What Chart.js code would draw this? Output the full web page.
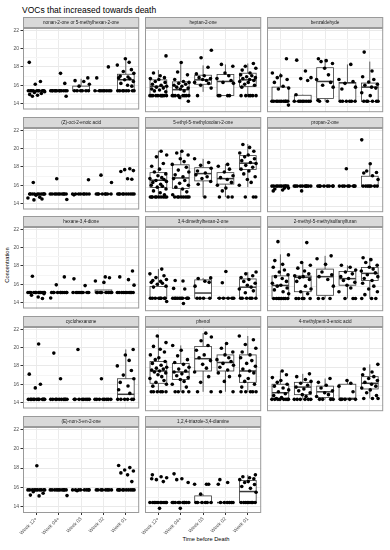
<!DOCTYPE html>
<html>
<head>
<meta charset="utf-8">
<script src="https://cdn.jsdelivr.net/npm/chart.js@4.4.1/dist/chart.umd.min.js"></script>
<style>
  body { margin: 0; background: #fff; font-family: "Liberation Sans", Arial, sans-serif; }
  #wrap { position: relative; width: 390px; height: 550px; overflow: hidden; }
  #wrap canvas { position: absolute; }
  .title { position: absolute; left: 22px; top: 5px; font-size: 8.5px; line-height: 11px; color: #000; white-space: nowrap; }
  .xlab { position: absolute; left: 156px; width: 100px; top: 535px; font-size: 5.7px; line-height: 8px; text-align: center; color: #000; }
  .ylab { position: absolute; left: -43px; top: 261px; width: 100px; text-align: center; font-size: 5.7px; line-height: 8px; color: #000; transform: rotate(-90deg); }
</style>
</head>
<body>
<div id="wrap">
  <div class="title">VOCs that increased towards death</div>
  <div class="ylab">Concentration</div>
  <div class="xlab">Time before Death</div>
</div>
<script>
const weeks = ['Week 12+', 'Week 04+', 'Week 03', 'Week 02', 'Week 01'];
const yTicks = [14, 15, 16, 17, 18, 19, 20, 21, 22];
const vocs = [
  'nonan-2-one or 5-methylhexan-2-one', 'heptan-2-one', 'benzaldehyde',
  '(Z)-oct-2-enoic acid', '5-ethyl-5-methyloxolan-2-one', 'propan-2-one',
  'hexane-3,4-dione', '3,4-dimethylhexan-2-one', '2-methyl-5-methylsulfanylfuran',
  'cyclohexanone', 'phenol', '4-methylpent-3-enoic acid',
  '(E)-non-3-en-2-one', '1,2,4-triazole-3,4-diamine'
];

// box statistics per VOC, one value per week
const whiskLo = [
  [15.38, 15.38, 15.38, 15.38, 15.39],
  [15.11, 14.7, 15.5, 15.11, 15.11],
  [14.49, 14.49, 14.5, 14.49, 14.49],
  [15.05, 15.05, 15.05, 15.05, 15.05],
  [14.95, 14.95, 14.95, 14.95, 16.0],
  [16.11, 16.11, 16.11, 16.11, 16.11],
  [15.1, 15.1, 15.1, 15.1, 15.1],
  [14.72, 14.72, 14.72, 14.72, 14.72],
  [14.69, 14.69, 14.69, 14.69, 14.69],
  [14.35, 14.35, 14.35, 14.35, 14.35],
  [15.4, 15.4, 15.4, 15.4, 15.4],
  [14.6, 14.6, 14.6, 14.6, 14.7],
  [15.74, 15.74, 15.74, 15.74, 15.74],
  [14.43, 14.43, 14.43, 14.43, 14.43]
];
const boxQ1 = [
  [15.36, 15.38, 15.39, 15.38, 15.39],
  [15.11, 15.11, 16.3, 15.11, 16.08],
  [14.49, 14.49, 14.8, 14.49, 14.49],
  [15.05, 15.05, 15.05, 15.05, 15.05],
  [15.97, 15.87, 16.66, 16.32, 17.87],
  [16.11, 16.11, 16.11, 16.11, 16.11],
  [15.1, 15.1, 15.1, 15.1, 15.1],
  [14.72, 14.72, 14.72, 14.72, 14.72],
  [14.69, 15.41, 15.03, 16.1, 16.59],
  [14.35, 14.35, 14.35, 14.35, 14.35],
  [16.3, 16.7, 17.6, 17.6, 16.4],
  [14.7, 15.1, 14.8, 14.6, 15.7],
  [15.74, 15.74, 15.74, 15.74, 15.74],
  [14.43, 14.43, 14.43, 14.43, 14.43]
];
const boxMed = [
  [15.38, 15.38, 15.42, 15.38, 16.6],
  [16.08, 15.73, 16.77, 16.6, 16.77],
  [14.55, 14.49, 16.6, 16.45, 16.0],
  [15.05, 15.05, 15.05, 15.05, 15.05],
  [16.73, 16.97, 17.43, 16.9, 18.53],
  [16.11, 16.11, 16.11, 16.11, 16.11],
  [15.1, 15.1, 15.1, 15.1, 15.1],
  [14.72, 14.72, 15.27, 14.72, 15.89],
  [16.07, 16.93, 17.0, 16.79, 17.35],
  [14.35, 14.35, 14.35, 14.35, 14.9],
  [17.6, 17.5, 18.9, 18.5, 17.6],
  [15.3, 15.9, 15.4, 14.7, 16.3],
  [15.74, 15.74, 15.74, 15.74, 15.74],
  [14.43, 14.43, 14.43, 14.43, 15.57]
];
const boxQ3 = [
  [15.42, 15.38, 15.9, 15.38, 17.2],
  [16.77, 16.56, 17.26, 17.33, 17.47],
  [16.0, 15.14, 18.05, 16.5, 16.43],
  [15.05, 15.05, 15.05, 15.05, 15.05],
  [17.53, 18.36, 18.05, 17.53, 19.33],
  [16.11, 16.11, 16.11, 16.11, 17.15],
  [15.1, 15.1, 15.1, 15.37, 15.1],
  [15.96, 14.72, 16.66, 14.72, 16.76],
  [17.08, 17.08, 17.8, 17.55, 17.97],
  [14.35, 14.35, 14.35, 14.35, 16.6],
  [18.6, 18.4, 20.2, 19.3, 19.3],
  [16.2, 16.4, 16.0, 16.2, 17.0],
  [15.74, 15.74, 15.74, 15.74, 15.74],
  [14.43, 14.43, 15.12, 14.43, 16.71]
];
const whiskHi = [
  [15.42, 15.38, 16.7, 15.38, 18.85],
  [17.8, 18.6, 18.3, 18.4, 18.5],
  [17.5, 15.2, 19.0, 18.4, 18.7],
  [15.05, 15.05, 15.05, 15.05, 15.05],
  [19.85, 19.8, 19.0, 18.46, 20.55],
  [16.11, 16.11, 16.11, 16.11, 18.47],
  [15.1, 15.1, 15.1, 15.37, 15.1],
  [17.8, 14.72, 16.87, 14.72, 17.5],
  [19.36, 18.49, 19.2, 18.2, 19.0],
  [14.35, 14.35, 14.35, 14.35, 19.8],
  [21.3, 20.3, 21.6, 20.5, 21.3],
  [17.6, 17.3, 16.8, 16.6, 18.3],
  [15.74, 15.74, 15.74, 15.74, 15.74],
  [14.43, 14.43, 15.3, 14.43, 17.3]
];

// individual samples per VOC and week
const samples = [
  [
    [18.5, 16.4, 16.1, 15.4, 15.4, 15.4, 15.4, 15.4, 15.4, 15.4, 15.4, 15.4, 15.4, 15.3, 15.2, 15.1, 15.0, 14.9, 14.8],
    [17.3, 16.2, 15.4, 15.4, 15.4, 15.4, 15.4, 15.4, 15.4, 15.4, 15.4, 15.4, 15.4, 15.4, 14.8],
    [16.8, 16.5, 16.4, 16.1, 15.9, 15.4, 15.4, 15.4, 15.4, 15.4, 15.4],
    [18.0, 16.8, 15.4, 15.4, 15.4, 15.4, 15.4, 15.4, 15.4, 15.4],
    [18.9, 18.5, 18.2, 17.7, 17.5, 17.3, 17.0, 16.9, 16.8, 16.7, 16.6, 16.4, 16.2, 16.0, 15.9, 15.4, 15.4, 15.4, 15.4, 15.4, 15.4, 15.4, 15.4]
  ],
  [
    [19.3, 17.5, 17.2, 17.0, 16.9, 16.8, 16.6, 16.5, 16.3, 16.2, 16.1, 16.0, 15.9, 15.8, 15.7, 15.6, 15.5, 15.1, 15.1, 15.1, 15.1, 15.1, 15.1, 15.1, 15.1, 15.1, 15.1],
    [18.6, 17.6, 17.3, 16.8, 16.6, 16.5, 16.4, 16.3, 16.2, 16.1, 16.0, 15.9, 15.8, 15.6, 15.1, 15.1, 15.1, 15.1, 15.1, 15.1, 15.1, 15.1, 14.9, 14.5],
    [19.9, 19.1, 18.1, 17.4, 17.2, 17.0, 16.9, 16.8, 16.7, 16.5, 16.4, 16.2, 15.9, 15.1],
    [18.4, 18.2, 17.5, 17.2, 16.9, 16.7, 16.5, 16.4, 15.1, 15.1, 15.1, 15.1],
    [18.5, 18.2, 18.0, 17.8, 17.5, 17.3, 17.2, 17.1, 17.0, 16.9, 16.8, 16.7, 16.6, 16.5, 16.3, 16.2, 16.0, 15.1, 15.1, 15.1, 15.1, 15.1, 15.1]
  ],
  [
    [19.0, 17.5, 17.2, 17.0, 16.8, 16.5, 16.1, 15.9, 15.8, 14.5, 14.5, 14.5, 14.5, 14.5, 14.5, 14.5, 14.5, 14.5, 14.5, 14.1],
    [18.85, 17.7, 17.0, 16.9, 16.7, 15.2, 14.5, 14.5, 14.5, 14.5, 14.5, 14.5, 14.5, 14.5],
    [19.0, 18.8, 18.7, 18.5, 18.0, 17.3, 16.8, 16.5, 16.2, 16.0, 14.5, 14.5, 14.6],
    [18.4, 16.8, 16.6, 16.4, 16.0, 15.8, 14.5, 14.5, 14.5, 14.5, 14.5, 14.5],
    [19.7, 17.7, 17.1, 16.8, 16.55, 16.3, 16.2, 16.0, 15.9, 15.4, 15.1, 14.5, 14.5, 14.5, 14.5, 14.5, 14.5]
  ],
  [
    [16.3, 15.05, 15.05, 15.05, 15.05, 15.05, 15.05, 15.05, 15.05, 15.05, 15.05, 14.9, 14.7, 14.6, 14.5, 14.4],
    [16.7, 15.05, 15.05, 15.05, 15.05, 15.05, 15.05, 15.05, 15.05, 15.05, 15.05, 14.45],
    [16.6, 15.05, 15.05, 15.05, 15.05, 15.05, 15.05, 15.05, 15.05, 14.95],
    [17.1, 16.3, 15.05, 15.05, 15.05, 15.05, 15.05, 15.05, 15.05, 15.05],
    [17.8, 17.7, 17.6, 17.5, 16.7, 16.65, 15.05, 15.05, 15.05, 15.05, 15.05, 15.05, 15.05, 15.05, 15.05, 15.05]
  ],
  [
    [19.8, 19.4, 19.2, 18.5, 18.2, 17.9, 17.6, 17.4, 17.2, 17.0, 16.9, 16.8, 16.7, 16.6, 16.5, 16.3, 16.2, 16.1, 16.0, 15.8, 15.6, 15.4, 15.2, 14.95, 14.95, 14.95, 14.95, 14.95, 14.95, 14.95, 14.95, 14.95, 14.95],
    [19.8, 19.6, 19.4, 19.0, 18.7, 18.4, 18.1, 17.8, 17.6, 17.3, 17.1, 16.9, 16.7, 16.4, 16.2, 16.0, 15.8, 15.5, 15.2, 14.95, 14.95, 14.95, 14.95, 14.95, 14.95, 14.95, 14.95],
    [19.0, 18.6, 18.3, 18.0, 17.7, 17.5, 17.3, 17.1, 16.9, 16.6, 16.3, 14.95],
    [18.4, 18.2, 17.9, 17.6, 17.2, 17.0, 16.8, 16.5, 16.2, 15.9, 15.6, 14.95, 14.95, 14.95],
    [20.5, 20.2, 19.8, 19.6, 19.4, 19.2, 19.0, 18.8, 18.6, 18.5, 18.3, 18.1, 17.9, 17.7, 17.4, 17.1, 16.8, 16.5, 16.2, 14.95, 14.95, 14.95]
  ],
  [
    [16.11, 16.11, 16.11, 16.11, 16.11, 16.11, 16.11, 16.11, 16.11, 16.11, 15.9, 15.8, 15.7, 15.6, 15.9],
    [16.11, 16.11, 16.11, 16.11, 16.11, 16.11, 16.11, 16.11, 16.11, 16.11, 15.6],
    [16.11, 16.11, 16.11, 16.11, 16.11, 16.11, 16.11, 16.11],
    [17.95, 16.11, 16.11, 16.11, 16.11, 16.11, 16.11, 16.11, 16.11],
    [21.0, 18.47, 17.7, 17.55, 17.5, 17.2, 16.8, 16.11, 16.11, 16.11, 16.11, 16.11, 16.11, 16.11]
  ],
  [
    [16.87, 15.1, 15.1, 15.1, 15.1, 15.1, 15.1, 15.1, 15.1, 15.1, 15.1, 15.1, 15.1, 14.96, 14.8, 14.6, 14.44],
    [16.8, 15.93, 15.1, 15.1, 15.1, 15.1, 15.1, 15.1, 15.1, 15.1, 15.1, 15.1, 14.5],
    [16.59, 15.85, 15.1, 15.1, 15.1, 15.1, 15.1, 15.1, 15.1, 15.1],
    [16.8, 16.7, 16.35, 16.2, 15.1, 15.1, 15.1, 15.1, 15.1, 15.1, 15.1, 15.1],
    [17.45, 16.8, 16.5, 15.9, 15.1, 15.1, 15.1, 15.1, 15.1, 15.1, 15.1, 15.1, 15.1, 15.1]
  ],
  [
    [17.8, 17.3, 17.1, 16.9, 16.7, 16.6, 16.5, 16.4, 16.3, 16.2, 16.0, 15.9, 14.72, 14.72, 14.72, 14.72, 14.72, 14.72, 14.72, 14.72, 14.37],
    [16.6, 16.55, 15.76, 15.7, 14.72, 14.72, 14.72, 14.72, 14.72, 14.72, 14.72, 14.72, 14.72, 14.72, 14.17],
    [16.87, 16.8, 16.52, 16.4, 16.0, 14.72, 14.72, 14.72, 14.72],
    [17.55, 16.35, 14.72, 14.72, 14.72, 14.72, 14.72],
    [17.5, 17.3, 17.1, 16.9, 16.7, 16.5, 16.3, 16.1, 15.9, 15.7, 15.5, 15.3, 14.72, 14.72, 14.72, 14.72, 14.72, 14.72]
  ],
  [
    [20.7, 19.3, 18.7, 18.3, 18.0, 17.7, 17.5, 17.2, 17.0, 16.8, 16.5, 16.3, 16.1, 16.0, 15.8, 15.6, 15.4, 15.2, 14.69, 14.69, 14.69, 14.69, 14.69, 14.69, 14.69, 14.69],
    [20.6, 18.5, 18.2, 17.9, 17.6, 17.3, 17.1, 17.0, 16.9, 16.7, 16.5, 16.0, 15.7, 15.4, 15.2, 14.69, 14.69, 14.69, 14.69, 14.69],
    [19.2, 18.9, 18.3, 17.5, 17.2, 17.0, 16.7, 16.0, 14.69, 14.69, 14.69],
    [18.2, 18.0, 17.7, 17.5, 17.3, 17.0, 16.8, 16.6, 16.4, 16.1, 15.8, 15.4, 14.69, 14.69, 14.69],
    [19.0, 18.8, 18.5, 18.2, 18.0, 17.8, 17.6, 17.4, 17.2, 17.0, 16.8, 16.6, 16.3, 16.0, 15.7, 15.4, 15.1, 14.69, 14.69, 14.69]
  ],
  [
    [20.4, 17.1, 16.0, 15.6, 14.35, 14.35, 14.35, 14.35, 14.35, 14.35, 14.35, 14.35, 14.35, 14.35, 14.35, 14.35],
    [19.4, 16.6, 14.35, 14.35, 14.35, 14.35, 14.35, 14.35, 14.35, 14.35, 14.35, 14.35],
    [19.8, 14.35, 14.35, 14.35, 14.35, 14.35, 14.35, 14.35, 14.35],
    [16.6, 14.35, 14.35, 14.35, 14.35, 14.35, 14.35, 14.35, 14.35],
    [19.8, 19.2, 18.6, 18.0, 17.5, 17.0, 16.6, 16.2, 15.8, 15.4, 15.0, 14.35, 14.35, 14.35, 14.35, 14.35, 14.35]
  ],
  [
    [21.3, 20.6, 20.2, 19.9, 19.6, 19.3, 19.0, 18.8, 18.6, 18.4, 18.2, 18.0, 17.9, 17.8, 17.7, 17.6, 17.5, 17.4, 17.2, 17.0, 16.8, 16.6, 16.4, 16.2, 16.0, 15.4, 15.4, 15.4, 15.4, 15.4, 15.4],
    [20.3, 19.8, 19.2, 18.8, 18.5, 18.3, 18.0, 17.8, 17.6, 17.5, 17.3, 17.1, 16.9, 16.7, 16.5, 16.2, 15.9, 15.4, 15.4, 15.4, 15.4],
    [21.6, 21.2, 20.8, 20.3, 19.8, 19.3, 19.0, 18.7, 18.3, 17.9, 17.5, 17.0, 16.4, 15.4, 15.4],
    [20.5, 20.0, 19.6, 19.3, 19.0, 18.8, 18.6, 18.4, 18.2, 18.0, 17.7, 17.4, 17.0, 16.5, 15.4, 15.4],
    [21.3, 20.9, 20.4, 20.0, 19.6, 19.3, 19.0, 18.7, 18.4, 18.1, 17.8, 17.6, 17.4, 17.1, 16.8, 16.5, 16.2, 15.9, 15.4, 15.4, 15.4, 15.4, 15.4]
  ],
  [
    [17.6, 17.2, 16.9, 16.6, 16.4, 16.2, 16.0, 15.8, 15.6, 15.4, 15.2, 15.0, 14.8, 14.7, 14.6, 14.6, 14.6, 14.6, 14.6, 14.6, 14.6, 14.6],
    [17.3, 17.0, 16.7, 16.5, 16.3, 16.1, 15.9, 15.7, 15.5, 15.3, 15.1, 14.9, 14.6, 14.6, 14.6, 14.6, 14.6, 14.6],
    [16.8, 16.4, 16.1, 15.8, 15.5, 15.3, 15.1, 14.9, 14.6, 14.6, 14.6, 14.6],
    [16.6, 16.3, 16.0, 15.4, 14.6, 14.6, 14.6, 14.6, 14.6],
    [18.3, 17.8, 17.5, 17.2, 17.0, 16.8, 16.6, 16.4, 16.2, 16.0, 15.8, 15.6, 15.3, 15.0, 14.7, 14.7, 14.7]
  ],
  [
    [18.24, 15.56, 15.4, 15.2, 15.12, 15.74, 15.74, 15.74, 15.74, 15.74, 15.74, 15.74, 15.74, 15.74, 15.74],
    [15.15, 15.74, 15.74, 15.74, 15.74, 15.74, 15.74, 15.74, 15.74, 15.74, 15.74],
    [15.65, 15.74, 15.74, 15.74, 15.74, 15.74, 15.74, 15.74, 15.74],
    [15.74, 15.74, 15.74, 15.74, 15.74, 15.74, 15.74, 15.74],
    [18.27, 18.05, 17.8, 17.7, 17.5, 17.3, 16.6, 15.74, 15.74, 15.74, 15.74, 15.74, 15.74, 15.74, 15.74, 15.74, 15.74]
  ],
  [
    [17.3, 17.1, 17.0, 16.8, 16.6, 16.9, 13.83, 14.43, 14.43, 14.43, 14.43, 14.43, 14.43, 14.43, 14.43, 14.43, 14.43],
    [17.4, 16.9, 16.8, 16.5, 13.83, 14.43, 14.43, 14.43, 14.43, 14.43, 14.43, 14.43, 14.43, 14.43, 14.43],
    [16.33, 16.33, 16.33, 15.3, 14.43, 14.43, 14.43, 14.43, 14.43, 14.43],
    [16.8, 16.5, 16.33, 14.43, 14.43, 14.43, 14.43, 14.43, 14.43],
    [17.3, 17.1, 17.0, 16.9, 16.8, 16.6, 16.5, 16.3, 16.1, 15.9, 15.5, 14.43, 14.43, 14.43, 14.43, 14.43, 14.43, 14.43, 14.43]
  ]
];

// fixed horizontal spread for the jittered points (category units)
const jitter = [-0.32, 0.18, -0.05, 0.34, -0.22, 0.08, 0.27, -0.36, 0.02, -0.14, 0.3, -0.27, 0.12, 0.37, -0.09, 0.22, -0.3, 0.05, -0.18, 0.33, -0.02, 0.15, -0.38, 0.25, -0.11, 0.36, -0.25, 0.1];

const colLeft = [23, 145, 267];
const rowTop = [17, 117, 216, 316, 416];
const stripH = 11, plotH = 86, plotW = 118, yAxisW = 23, xAxisH = 24;

Chart.defaults.font.family = '"Liberation Sans", Arial, sans-serif';

const panelDeco = {
  id: 'panelDeco',
  beforeDatasetsDraw(chart, args, opts) {
    const { ctx, scales: { x, y } } = chart;
    const p = opts.panel;
    const hw = x.getPixelForValue(0.375) - x.getPixelForValue(0);
    ctx.save();
    ctx.strokeStyle = '#3a3a3a';
    for (let i = 0; i < weeks.length; i++) {
      const cx = x.getPixelForValue(i);
      const yLo = y.getPixelForValue(whiskLo[p][i]);
      const yQ1 = y.getPixelForValue(boxQ1[p][i]);
      const yMed = y.getPixelForValue(boxMed[p][i]);
      const yQ3 = y.getPixelForValue(boxQ3[p][i]);
      const yHi = y.getPixelForValue(whiskHi[p][i]);
      ctx.lineWidth = 0.8;
      ctx.beginPath();
      ctx.moveTo(cx, yHi); ctx.lineTo(cx, yQ3);
      ctx.moveTo(cx, yQ1); ctx.lineTo(cx, yLo);
      ctx.stroke();
      ctx.fillStyle = '#fff';
      ctx.fillRect(cx - hw, yQ3, hw * 2, yQ1 - yQ3);
      ctx.strokeRect(cx - hw, yQ3, hw * 2, yQ1 - yQ3);
      ctx.lineWidth = 1.5;
      ctx.beginPath();
      ctx.moveTo(cx - hw, yMed); ctx.lineTo(cx + hw, yMed);
      ctx.stroke();
    }
    ctx.restore();
  },
  afterDraw(chart, args, opts) {
    const { ctx, chartArea: a } = chart;
    ctx.save();
    ctx.fillStyle = '#d9d9d9';
    ctx.fillRect(a.left, a.top - stripH, a.width, stripH);
    ctx.strokeStyle = '#9a9a9a';
    ctx.lineWidth = 1;
    ctx.strokeRect(a.left + 0.5, a.top - stripH + 0.5, a.width - 1, stripH - 1);
    ctx.strokeRect(a.left + 0.5, a.top + 0.5, a.width - 1, a.height - 1);
    ctx.fillStyle = '#1a1a1a';
    ctx.font = '4.6px "Liberation Sans", Arial, sans-serif';
    ctx.textAlign = 'center';
    ctx.textBaseline = 'middle';
    ctx.fillText(vocs[opts.panel], (a.left + a.right) / 2, a.top - stripH / 2 + 0.3);
    ctx.restore();
  }
};

const wrap = document.getElementById('wrap');

vocs.forEach((name, p) => {
  const col = p % 3, row = Math.floor(p / 3);
  const bottom = row === 4;
  const left = col === 0;
  const w = yAxisW + plotW;
  const h = stripH + plotH + (bottom ? xAxisH : 0);
  const cv = document.createElement('canvas');
  cv.width = w; cv.height = h;
  cv.style.left = (colLeft[col] - yAxisW) + 'px';
  cv.style.top = rowTop[row] + 'px';
  cv.style.width = w + 'px'; cv.style.height = h + 'px';
  wrap.appendChild(cv);

  const pts = [];
  samples[p].forEach((vals, i) => {
    vals.forEach((v, k) => {
      pts.push({ x: i + jitter[(k + p * 3 + i * 5) % jitter.length], y: v });
    });
  });

  new Chart(cv, {
    type: 'scatter',
    data: {
      datasets: [{
        data: pts,
        pointRadius: 1.8,
        pointBackgroundColor: '#000',
        pointBorderWidth: 0,
        pointHoverRadius: 1.8
      }]
    },
    options: {
      responsive: false,
      animation: false,
      devicePixelRatio: 1,
      layout: { padding: { top: stripH, left: 0, right: 0, bottom: 0 } },
      plugins: {
        legend: { display: false },
        tooltip: { enabled: false },
        panelDeco: { panel: p }
      },
      scales: {
        x: {
          type: 'linear',
          min: -0.6, max: 4.6,
          afterBuildTicks: s => { s.ticks = weeks.map((wk, i) => ({ value: i })); },
          afterFit: s => { s.height = bottom ? xAxisH : 0; },
          border: { display: false },
          grid: { color: '#ebebeb', lineWidth: 1, drawTicks: bottom, tickLength: 2, tickColor: '#333' },
          ticks: {
            display: bottom, autoSkip: false, minRotation: 45, maxRotation: 45,
            padding: 1, color: '#4d4d4d', font: { size: 5 },
            callback: v => weeks[v]
          }
        },
        y: {
          type: 'linear',
          min: 13.35, max: 22.25,
          afterBuildTicks: s => { s.ticks = yTicks.map(v => ({ value: v })); },
          afterFit: s => { s.width = yAxisW; },
          border: { display: false },
          grid: {
            color: c => (c.tick && c.tick.value % 2) ? '#f5f5f5' : '#e9e9e9',
            lineWidth: 1,
            drawTicks: left, tickLength: 2.5,
            tickColor: c => (c.tick && c.tick.value % 2) ? 'rgba(0,0,0,0)' : '#333'
          },
          ticks: {
            display: left, padding: 1.5, color: '#4d4d4d', font: { size: 5 },
            callback: v => (v % 2 ? '' : v)
          }
        }
      }
    },
    plugins: [panelDeco]
  });
});
</script>
</body>
</html>
